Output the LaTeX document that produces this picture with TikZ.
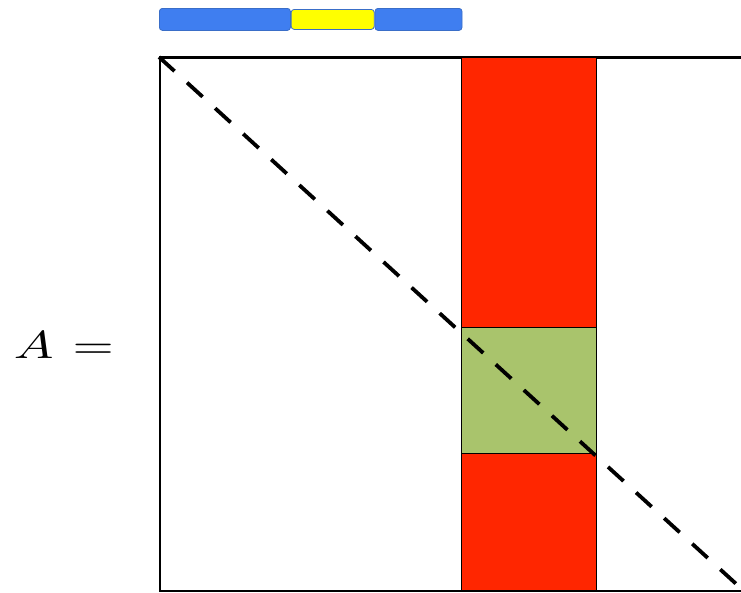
\documentclass[tikz,border=0pt]{standalone}
\usepackage{amsmath}
\usepackage{amssymb}
\usepackage{tikz}
\usepackage{xcolor}
\usetikzlibrary{positioning}

\definecolor{blkred}{HTML}{FF2600}
\definecolor{blkgreen}{HTML}{A9C46C}
\definecolor{barblue}{HTML}{3F7EF0}
\definecolor{barblueline}{HTML}{3A6EC8}
\definecolor{baryellow}{HTML}{FFFF00}

\tikzset{
  blk/.style={rectangle, draw=black, line width=1.3pt, anchor=north west, inner sep=0pt},
  barpart/.style={rectangle, rounded corners=3pt, draw=barblueline, line width=0.8pt, inner sep=0pt, minimum height=22pt},
}

\begin{document}
\begin{tikzpicture}[x=1pt,y=-1pt]
\useasboundingbox (0,0) rectangle (741,592);
% matrix and its column
\node[blk, fill=white, line width=1.6pt, minimum width=584pt, minimum height=533pt] (mat) at (159,57) {};
\node[blk, fill=blkred, minimum width=135pt, minimum height=533pt] (col) at (461,57) {};
\node[blk, fill=blkgreen, minimum width=135pt, minimum height=126pt] (diagblk) at (461,327) {};
\draw[black, line width=3.8pt, dash pattern=on 21pt off 17pt] (mat.north west) -- (mat.south east);
\draw[line width=1.6pt] (mat.north west) -- (mat.north east);
% top bar
\node[barpart, fill=barblue, minimum width=131pt, anchor=north west] (barl) at (159,8) {};
\node[barpart, fill=baryellow, minimum width=83pt, minimum height=20pt, right=0pt of barl] (barm) {};
\node[barpart, fill=barblue, minimum width=87pt, right=0pt of barm] (barr) {};
% label
\node[anchor=east, inner sep=0pt, xscale=5.3, yscale=3.9, transform shape] (lbl) at (115,345) {$A\mkern1.5mu=$};
\end{tikzpicture}
\end{document}
